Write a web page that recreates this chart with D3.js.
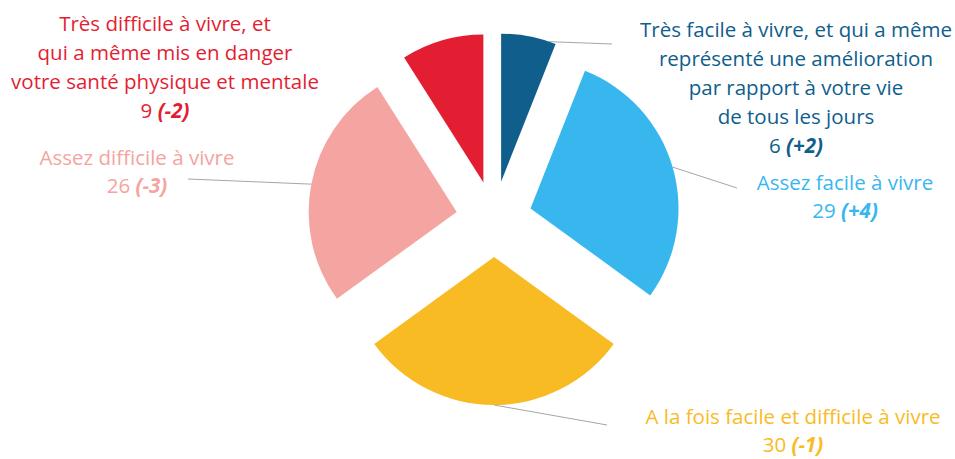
<!DOCTYPE html>
<html>
<head>
<meta charset="utf-8">
<script src="https://cdn.jsdelivr.net/npm/d3@7"></script>
<style>
  html, body { margin: 0; padding: 0; background: #fff; }
  svg { display: block; }
  text { font-family: "Open Sans", "Noto Sans", sans-serif; }
</style>
</head>
<body>
<svg id="chart" width="955" height="459"></svg>
<script>
// Répartition des réponses (en %), dans l'ordre horaire depuis midi
const categories = [
  "Très facile à vivre, et qui a même représenté une amélioration par rapport à votre vie de tous les jours",
  "Assez facile à vivre",
  "A la fois facile et difficile à vivre",
  "Assez difficile à vivre",
  "Très difficile à vivre, et qui a même mis en danger votre santé physique et mentale"
];
const values = [6, 29, 30, 26, 9];
const deltas = ["(+2)", "(+4)", "(-1)", "(-3)", "(-2)"];
const colors = ["#0f5e8c", "#38b7ef", "#f9bb23", "#f4a4a1", "#e31e33"];
const labelLines = [
  ["Très facile à vivre, et qui a même", "représenté une amélioration", "par rapport à votre vie", "de tous les jours"],
  ["Assez facile à vivre"],
  ["A la fois facile et difficile à vivre"],
  ["Assez difficile à vivre"],
  ["Très difficile à vivre, et", "qui a même mis en danger", "votre santé physique et mentale"]
];

// Mise en page
const cx = 494, cy = 219, radius = 148, explode = 38;
const fontSize = 20.5;
// ancre du libellé (centre, ligne de base de la 1re ligne, interligne) et extrémité du trait de rappel
const labelPos = [
  { x: 796, y: 37, lh: 29, leader: [612, 44], leaderAngle: 0.33 },
  { x: 845, y: 190, lh: 28, leader: [737, 188] },
  { x: 793, y: 424, lh: 28, leader: [607, 425] },
  { x: 137, y: 165, lh: 28, leader: [188, 179] },
  { x: 165, y: 31, lh: 29, leader: null }
];

const svg = d3.select("#chart");
const g = svg.append("g").attr("transform", `translate(${cx},${cy})`);

const pie = d3.pie().sort(null).value(d => d).startAngle(0).endAngle(2 * Math.PI);
const arcs = pie(values);
const arc = d3.arc().innerRadius(0).outerRadius(radius);

const midAngle = a => (a.startAngle + a.endAngle) / 2;
const offset = a => {
  const m = midAngle(a);
  return [Math.sin(m) * explode, -Math.cos(m) * explode];
};

// Traits de rappel (sous les secteurs)
const leaders = g.append("g");
arcs.forEach((a, i) => {
  const lp = labelPos[i];
  if (!lp.leader) return;
  const [ox, oy] = offset(a);
  const ang = lp.leaderAngle !== undefined ? lp.leaderAngle : midAngle(a);
  const sx = ox + Math.sin(ang) * radius;
  const sy = oy - Math.cos(ang) * radius;
  leaders.append("line")
    .attr("x1", sx).attr("y1", sy)
    .attr("x2", lp.leader[0] - cx).attr("y2", lp.leader[1] - cy)
    .attr("stroke", "#a6a6a6").attr("stroke-width", 1);
});

// Secteurs éclatés
g.selectAll("path.slice")
  .data(arcs)
  .join("path")
  .attr("class", "slice")
  .attr("d", arc)
  .attr("fill", (d, i) => colors[i])
  .attr("transform", d => `translate(${offset(d)[0]},${offset(d)[1]})`);

// Libellés
arcs.forEach((a, i) => {
  const lp = labelPos[i];
  const t = svg.append("text")
    .attr("text-anchor", "middle")
    .attr("font-size", fontSize)
    .attr("fill", colors[i]);
  labelLines[i].forEach((line, k) => {
    t.append("tspan").attr("x", lp.x).attr("y", lp.y + k * lp.lh).text(line);
  });
  const last = t.append("tspan").attr("x", lp.x).attr("y", lp.y + labelLines[i].length * lp.lh);
  last.append("tspan").text(values[i] + " ");
  last.append("tspan").attr("font-weight", "bold").attr("font-style", "italic").text(deltas[i]);
});
</script>
</body>
</html>
